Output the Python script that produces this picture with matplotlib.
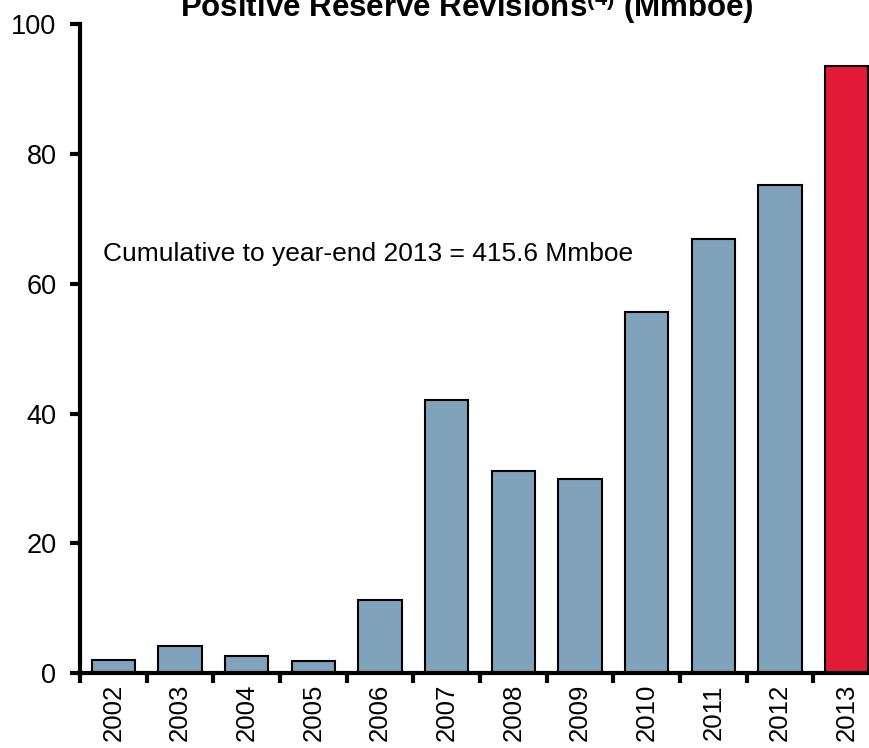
import matplotlib
matplotlib.use("Agg")
import matplotlib.pyplot as plt
import numpy as np

plt.rcParams['font.family'] = ['Liberation Sans', 'DejaVu Sans']
plt.rcParams['mathtext.fontset'] = 'custom'
plt.rcParams['mathtext.rm'] = 'Liberation Sans'
plt.rcParams['mathtext.bf'] = 'Liberation Sans:bold'

years = ['2002', '2003', '2004', '2005', '2006', '2007', '2008', '2009',
         '2010', '2011', '2012', '2013']
values = [2.0, 4.1, 2.6, 1.8, 11.2, 42.1, 31.1, 29.9, 55.7, 66.9, 75.2, 93.6]
bar_colors = ['#80A2BA'] * 11 + ['#E31A37']
yticks = [0, 20, 40, 60, 80, 100]
title = r'Positive Reserve Revisions$^{\mathbf{(4)}}$ (Mmboe)'
note = 'Cumulative to year-end 2013 = 415.6 Mmboe'

fig = plt.figure(figsize=(8.7, 7.48), dpi=100)
ax = fig.add_axes([80/870, 1 - 673/748, 800/870, (673 - 24.4)/748])

x = np.arange(len(years))
ax.bar(x, values, width=0.65, color=bar_colors, edgecolor='black', linewidth=1.5, zorder=2)

ax.set_xlim(-0.5, len(years) - 0.5)
ax.set_ylim(0, 100)
ax.set_yticks(yticks)
ax.set_yticklabels([str(t) for t in yticks], fontsize=19.5)
ax.set_xticks(x)
ax.set_xticklabels(years, rotation=90, fontsize=18.5)
ax.tick_params(axis='x', which='major', length=0, pad=8)
ax.set_xticks(np.arange(len(years)) - 0.5, minor=True)
ax.tick_params(axis='x', which='minor', length=7, width=3, direction='out')
ax.tick_params(axis='y', length=7, width=3, direction='out', pad=10)

for s in ['top', 'right']:
    ax.spines[s].set_visible(False)
for s in ['left', 'bottom']:
    ax.spines[s].set_linewidth(3)

ax.text(-0.155, 64.6, note, fontsize=19, va='center', ha='left')

fig.text(467/870, 1 - 6/748, title, fontsize=22.5, fontweight='bold', ha='center', va='center')

fig.savefig('out.png', dpi=100)
